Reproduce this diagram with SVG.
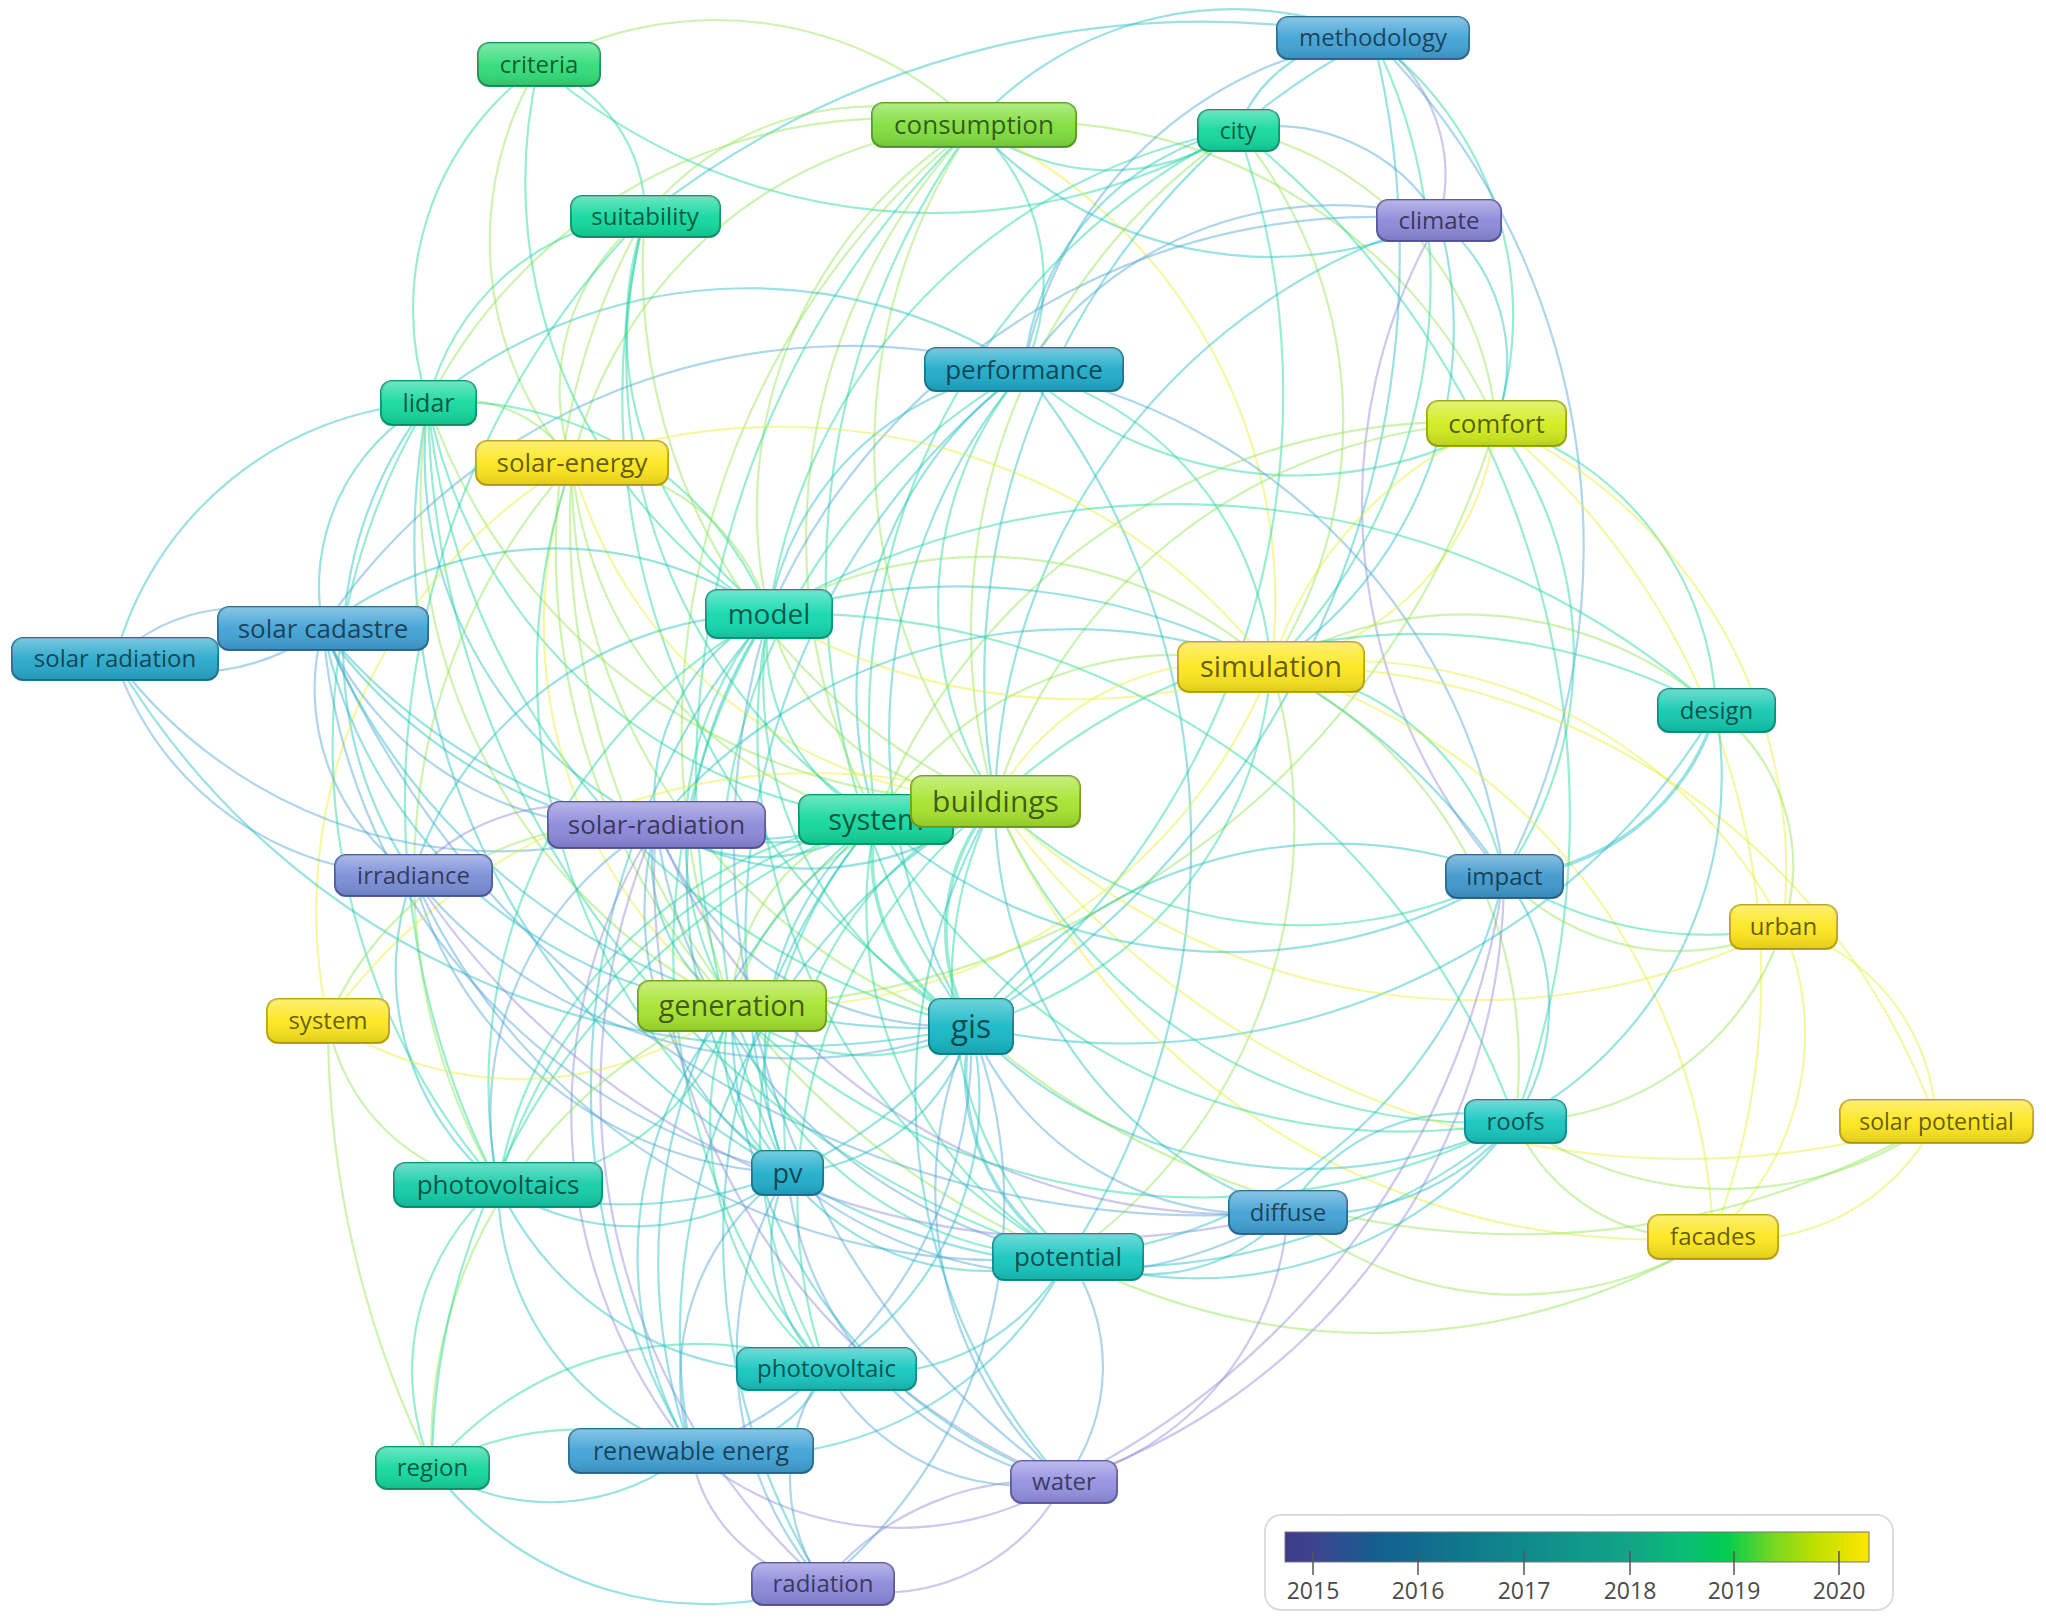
<svg xmlns="http://www.w3.org/2000/svg" width="2046" height="1624" viewBox="0 0 2046 1624">
<defs>
<linearGradient id="gloss" x1="0" y1="0" x2="0" y2="1">
<stop offset="0" stop-color="#fff" stop-opacity="0.38"/>
<stop offset="0.5" stop-color="#fff" stop-opacity="0.05"/>
<stop offset="1" stop-color="#000" stop-opacity="0.12"/>
</linearGradient>
<linearGradient id="scale" x1="0" y1="0" x2="1" y2="0">
<stop offset="0" stop-color="#3e3a8a"/>
<stop offset="0.05" stop-color="#3c4490"/>
<stop offset="0.128" stop-color="#215690"/>
<stop offset="0.16" stop-color="#135f8f"/>
<stop offset="0.41" stop-color="#0f8a8b"/>
<stop offset="0.59" stop-color="#12a488"/>
<stop offset="0.70" stop-color="#08c070"/>
<stop offset="0.755" stop-color="#00cc50"/>
<stop offset="0.84" stop-color="#7ad820"/>
<stop offset="0.91" stop-color="#c0e000"/>
<stop offset="1" stop-color="#ffe600"/>
</linearGradient>
<style>
.e{fill:none;stroke-width:2.2;stroke-opacity:0.45}
.w{stroke-width:3.6}
.c0{stroke:#8c88d8}
.c1{stroke:#4aa2d2}
.c2{stroke:#1cbcc0}
.c3{stroke:#1cd4a0}
.c4{stroke:#8ee450}
.c5{stroke:#e8ee30}
.b{stroke-width:2}
.gl{fill:url(#gloss);stroke:none}
text{font-family:"Open Sans","Noto Sans","DejaVu Sans",sans-serif;text-anchor:middle}
.t{fill:#000;fill-opacity:0.62}
.gr{fill:#30dd78;stroke:#1e9a52}
.lg{fill:#80df3c;stroke:#58a028}
.aq{fill:#12d89e;stroke:#0c9a6c}
.bl{fill:#40a2d6;stroke:#2a6f98}
.pu{fill:#8c88da;stroke:#5c58a4}
.tl{fill:#1eabcb;stroke:#14798f}
.cf{fill:#d2ec1c;stroke:#98ac10}
.ye{fill:#fde61c;stroke:#c0a810}
.md{fill:#12d9b0;stroke:#0c9a7c}
.sr{fill:#28a8cc;stroke:#187898}
.de{fill:#12c9b0;stroke:#0c9080}
.li{fill:#a6e42e;stroke:#74a41c}
.ir{fill:#7a8ed8;stroke:#4c5ea4}
.im{fill:#3e98cc;stroke:#2a6a98}
.gi{fill:#16b8c6;stroke:#0e8490}
.ro{fill:#16c6c0;stroke:#0e9090}
.pvs{fill:#12cca8;stroke:#0c9478}
.pv{fill:#20aecc;stroke:#147c94}
.lt{fill:#9490e0;stroke:#605ca8}
</style>
</defs>
<rect x="0" y="0" width="2046" height="1624" fill="#fff"/>
<g id="connectors">
<path class="e c3" d="M539 65 A300 300 0 0 0 428 403"/>
<path class="e c4" d="M539 65 A340 340 0 0 0 572 463"/>
<path class="e c3" d="M539 65 A160 160 0 0 1 645 216"/>
<path class="e c4" d="M539 65 A370 370 0 0 1 974 125"/>
<path class="e c3" d="M539 65 A600 600 0 0 0 1238 130"/>
<path class="e c3" d="M539 65 A505 505 0 0 0 769 614"/>
<path class="e c2" d="M645 216 A900 900 0 0 1 1373 38"/>
<path class="e c4" d="M974 125 A290 290 0 0 0 645 216"/>
<path class="e c4" d="M974 125 A520 520 0 0 0 428 403"/>
<path class="e c3" d="M974 125 A225 225 0 0 0 1238 130"/>
<path class="e c2" d="M974 125 A350 350 0 0 1 1373 38"/>
<path class="e c2" d="M974 125 A400 400 0 0 0 1439 220"/>
<path class="e c3" d="M974 125 A210 210 0 0 1 1024 370"/>
<path class="e c4" d="M974 125 A450 450 0 0 0 769 614"/>
<path class="e c4" d="M974 125 A575 575 0 0 0 995 801"/>
<path class="e c3" d="M974 125 A765 765 0 0 0 971 1026"/>
<path class="e c5" d="M974 125 A525 525 0 0 1 1271 667"/>
<path class="e c4" d="M974 125 A510 510 0 0 1 1496 423"/>
<path class="e c4" d="M974 125 A775 775 0 0 0 732 1006"/>
<path class="e c4" d="M974 125 A595 595 0 0 0 876 819"/>
<path class="e c3" d="M974 125 A905 905 0 0 0 787 1173"/>
<path class="e c4" d="M974 125 A445 445 0 0 0 572 463"/>
<path class="e c2" d="M1238 130 A140 140 0 0 1 1373 38"/>
<path class="e c1" d="M1238 130 A190 190 0 0 1 1439 220"/>
<path class="e c2" d="M1238 130 A270 270 0 0 0 1024 370"/>
<path class="e c4" d="M1238 130 A330 330 0 0 1 1496 423"/>
<path class="e c4" d="M1238 130 A455 455 0 0 1 1271 667"/>
<path class="e c4" d="M1238 130 A605 605 0 0 0 995 801"/>
<path class="e c3" d="M1238 130 A795 795 0 0 1 971 1026"/>
<path class="e c3" d="M1238 130 A575 575 0 0 0 769 614"/>
<path class="e c3" d="M1238 130 A875 875 0 0 1 1515 1121"/>
<path class="e c3" d="M1238 130 A660 660 0 0 0 876 819"/>
<path class="e c0" d="M1373 38 A165 165 0 0 1 1439 220"/>
<path class="e c1" d="M1373 38 A410 410 0 0 0 1024 370"/>
<path class="e c3" d="M1373 38 A345 345 0 0 1 1496 423"/>
<path class="e c3" d="M1373 38 A545 545 0 0 1 1271 667"/>
<path class="e c2" d="M1373 38 A905 905 0 0 1 971 1026"/>
<path class="e c2" d="M1373 38 A720 720 0 0 0 995 801"/>
<path class="e c1" d="M1373 38 A720 720 0 0 1 1504 876"/>
<path class="e c1" d="M1439 220 A375 375 0 0 0 1024 370"/>
<path class="e c0" d="M1439 220 A560 560 0 0 0 1504 876"/>
<path class="e c2" d="M1439 220 A180 180 0 0 1 1496 423"/>
<path class="e c2" d="M1439 220 A405 405 0 0 1 1271 667"/>
<path class="e c1" d="M1439 220 A660 660 0 0 0 769 614"/>
<path class="e c2" d="M1439 220 A620 620 0 0 0 995 801"/>
<path class="e c2" d="M1024 370 A505 505 0 0 0 428 403"/>
<path class="e c2" d="M1024 370 A300 300 0 0 0 769 614"/>
<path class="e c2" d="M1024 370 A560 560 0 0 0 971 1026"/>
<path class="e c3" d="M1024 370 A365 365 0 0 0 995 801"/>
<path class="e c2" d="M1024 370 A400 400 0 0 0 876 819"/>
<path class="e c3" d="M1024 370 A330 330 0 0 1 1271 667"/>
<path class="e c3" d="M1024 370 A405 405 0 0 0 1496 423"/>
<path class="e c1" d="M1024 370 A595 595 0 0 1 1504 876"/>
<path class="e c2" d="M1024 370 A710 710 0 0 0 787 1173"/>
<path class="e c3" d="M1024 370 A595 595 0 0 0 732 1006"/>
<path class="e c2" d="M1024 370 A755 755 0 0 1 1068 1257"/>
<path class="e c1" d="M1024 370 A635 635 0 0 0 323 628"/>
<path class="e c3" d="M428 403 A245 245 0 0 1 645 216"/>
<path class="e c2" d="M428 403 A345 345 0 0 0 115 659"/>
<path class="e c2" d="M428 403 A210 210 0 0 0 323 628"/>
<path class="e c4" d="M428 403 A135 135 0 0 1 572 463"/>
<path class="e c3" d="M428 403 A340 340 0 0 1 769 614"/>
<path class="e c3" d="M428 403 A705 705 0 0 0 971 1026"/>
<path class="e c2" d="M428 403 A720 720 0 0 0 787 1173"/>
<path class="e c2" d="M428 403 A410 410 0 0 0 656 825"/>
<path class="e c2" d="M428 403 A400 400 0 0 0 413 875"/>
<path class="e c3" d="M428 403 A665 665 0 0 0 498 1185"/>
<path class="e c4" d="M428 403 A590 590 0 0 0 995 801"/>
<path class="e c3" d="M428 403 A520 520 0 0 0 876 819"/>
<path class="e c3" d="M428 403 A905 905 0 0 0 1068 1257"/>
<path class="e c4" d="M428 403 A575 575 0 0 0 732 1006"/>
<path class="e c4" d="M645 216 A220 220 0 0 0 572 463"/>
<path class="e c3" d="M645 216 A355 355 0 0 0 769 614"/>
<path class="e c3" d="M645 216 A740 740 0 0 0 971 1026"/>
<path class="e c4" d="M645 216 A580 580 0 0 0 995 801"/>
<path class="e c3" d="M645 216 A550 550 0 0 0 876 819"/>
<path class="e c4" d="M645 216 A675 675 0 0 0 732 1006"/>
<path class="e c3" d="M645 216 A835 835 0 0 0 498 1185"/>
<path class="e c5" d="M1496 423 A280 280 0 0 1 1271 667"/>
<path class="e c5" d="M1496 423 A400 400 0 0 0 1271 667"/>
<path class="e c3" d="M1496 423 A310 310 0 0 1 1716 710"/>
<path class="e c5" d="M1496 423 A490 490 0 0 1 1783 927"/>
<path class="e c5" d="M1496 423 A715 715 0 0 1 1713 1237"/>
<path class="e c4" d="M1496 423 A535 535 0 0 0 995 801"/>
<path class="e c4" d="M1496 423 A815 815 0 0 1 732 1006"/>
<path class="e c3" d="M1496 423 A385 385 0 0 1 1504 876"/>
<path class="e c4" d="M1496 423 A625 625 0 0 0 876 819"/>
<path class="e c4" d="M572 463 A210 210 0 0 1 769 614"/>
<path class="e c5" d="M572 463 A460 460 0 0 0 995 801"/>
<path class="e c4" d="M572 463 A400 400 0 0 0 876 819"/>
<path class="e c5" d="M572 463 A480 480 0 0 0 732 1006"/>
<path class="e c4" d="M572 463 A585 585 0 0 0 971 1026"/>
<path class="e c5" d="M572 463 A520 520 0 0 0 328 1021"/>
<path class="e c4" d="M572 463 A615 615 0 0 0 498 1185"/>
<path class="e c3" d="M572 463 A630 630 0 0 0 787 1173"/>
<path class="e c4" d="M572 463 A795 795 0 0 0 1068 1257"/>
<path class="e c5" d="M572 463 A620 620 0 0 1 1271 667"/>
<path class="e c4" d="M769 614 A430 430 0 0 1 1271 667"/>
<path class="e c5" d="M769 614 A600 600 0 0 0 1271 667"/>
<path class="e c4" d="M769 614 A250 250 0 0 0 995 801"/>
<path class="e c3" d="M769 614 A195 195 0 0 0 876 819"/>
<path class="e c2" d="M769 614 A205 205 0 0 0 656 825"/>
<path class="e c3" d="M769 614 A335 335 0 0 0 732 1006"/>
<path class="e c3" d="M769 614 A390 390 0 0 0 971 1026"/>
<path class="e c2" d="M769 614 A475 475 0 0 0 787 1173"/>
<path class="e c3" d="M769 614 A535 535 0 0 0 498 1185"/>
<path class="e c3" d="M769 614 A600 600 0 0 0 1068 1257"/>
<path class="e c2" d="M769 614 A380 380 0 0 0 323 628"/>
<path class="e c2" d="M769 614 A375 375 0 0 0 413 875"/>
<path class="e c2" d="M769 614 A660 660 0 0 1 1504 876"/>
<path class="e c3" d="M769 614 A810 810 0 0 1 1716 710"/>
<path class="e c3" d="M769 614 A765 765 0 0 1 1515 1121"/>
<path class="e c2" d="M769 614 A715 715 0 0 0 691 1451"/>
<path class="e c1" d="M769 614 A780 780 0 0 0 1064 1482"/>
<path class="e c3" d="M769 614 A645 645 0 0 0 826 1369"/>
<path class="e c1" d="M323 628 A180 180 0 0 0 115 659"/>
<path class="e c1" d="M323 628 A220 220 0 0 1 115 659"/>
<path class="e c1" d="M323 628 A330 330 0 0 0 656 825"/>
<path class="e c1" d="M323 628 A225 225 0 0 0 413 875"/>
<path class="e c2" d="M323 628 A645 645 0 0 0 971 1026"/>
<path class="e c1" d="M323 628 A610 610 0 0 0 787 1173"/>
<path class="e c2" d="M323 628 A475 475 0 0 0 732 1006"/>
<path class="e c2" d="M323 628 A500 500 0 0 0 876 819"/>
<path class="e c2" d="M323 628 A590 590 0 0 0 995 801"/>
<path class="e c1" d="M323 628 A960 960 0 0 0 1288 1212"/>
<path class="e c1" d="M115 659 A315 315 0 0 0 413 875"/>
<path class="e c1" d="M115 659 A480 480 0 0 0 656 825"/>
<path class="e c2" d="M115 659 A790 790 0 0 0 971 1026"/>
<path class="e c5" d="M1271 667 A260 260 0 0 0 995 801"/>
<path class="e c4" d="M1271 667 A360 360 0 0 0 876 819"/>
<path class="e c3" d="M1271 667 A400 400 0 0 1 971 1026"/>
<path class="e c4" d="M1271 667 A380 380 0 0 1 1716 710"/>
<path class="e c3" d="M1271 667 A265 265 0 0 1 1504 876"/>
<path class="e c5" d="M1271 667 A490 490 0 0 1 1783 927"/>
<path class="e c5" d="M1271 667 A685 685 0 0 1 1936 1121"/>
<path class="e c5" d="M1271 667 A615 615 0 0 1 1713 1237"/>
<path class="e c4" d="M1271 667 A440 440 0 0 1 1515 1121"/>
<path class="e c5" d="M1271 667 A540 540 0 0 1 732 1006"/>
<path class="e c4" d="M1271 667 A530 530 0 0 1 1068 1257"/>
<path class="e c2" d="M1271 667 A540 540 0 0 0 656 825"/>
<path class="e c3" d="M1716 710 A620 620 0 0 0 995 801"/>
<path class="e c2 w" d="M1716 710 A230 230 0 0 1 1504 876"/>
<path class="e c4" d="M1716 710 A195 195 0 0 1 1783 927"/>
<path class="e c2" d="M1716 710 A390 390 0 0 1 1515 1121"/>
<path class="e c2" d="M1716 710 A690 690 0 0 1 971 1026"/>
<path class="e c4" d="M995 801 A105 105 0 0 1 876 819"/>
<path class="e c2" d="M995 801 A290 290 0 0 1 656 825"/>
<path class="e c4" d="M995 801 A285 285 0 0 0 732 1006"/>
<path class="e c3 w" d="M995 801 A195 195 0 0 0 971 1026"/>
<path class="e c3" d="M995 801 A360 360 0 0 0 787 1173"/>
<path class="e c3" d="M995 801 A440 440 0 0 0 1504 876"/>
<path class="e c3" d="M995 801 A520 520 0 0 0 1515 1121"/>
<path class="e c2" d="M995 801 A430 430 0 0 0 1288 1212"/>
<path class="e c3" d="M995 801 A390 390 0 0 0 1068 1257"/>
<path class="e c3" d="M995 801 A505 505 0 0 0 826 1369"/>
<path class="e c2" d="M995 801 A610 610 0 0 0 691 1451"/>
<path class="e c5" d="M995 801 A680 680 0 0 0 1783 927"/>
<path class="e c5" d="M995 801 A845 845 0 0 0 1936 1121"/>
<path class="e c5" d="M995 801 A715 715 0 0 0 1713 1237"/>
<path class="e c5" d="M995 801 A600 600 0 0 0 328 1021"/>
<path class="e c3" d="M995 801 A535 535 0 0 0 498 1185"/>
<path class="e c2" d="M995 801 A580 580 0 0 0 1064 1482"/>
<path class="e c2" d="M876 819 A190 190 0 0 1 656 825"/>
<path class="e c4" d="M876 819 A200 200 0 0 0 732 1006"/>
<path class="e c3 w" d="M876 819 A195 195 0 0 0 971 1026"/>
<path class="e c2" d="M876 819 A310 310 0 0 0 787 1173"/>
<path class="e c3" d="M876 819 A450 450 0 0 0 498 1185"/>
<path class="e c3" d="M876 819 A405 405 0 0 0 1068 1257"/>
<path class="e c3" d="M876 819 A470 470 0 0 0 826 1369"/>
<path class="e c2" d="M876 819 A560 560 0 0 0 691 1451"/>
<path class="e c3" d="M876 819 A600 600 0 0 0 1515 1121"/>
<path class="e c2" d="M876 819 A535 535 0 0 0 1504 876"/>
<path class="e c2" d="M876 819 A650 650 0 0 0 823 1584"/>
<path class="e c0" d="M656 825 A210 210 0 0 0 413 875"/>
<path class="e c2" d="M656 825 A170 170 0 0 0 732 1006"/>
<path class="e c1" d="M656 825 A320 320 0 0 0 971 1026"/>
<path class="e c1" d="M656 825 A315 315 0 0 0 787 1173"/>
<path class="e c1" d="M656 825 A335 335 0 0 0 498 1185"/>
<path class="e c0" d="M656 825 A630 630 0 0 0 1288 1212"/>
<path class="e c1" d="M656 825 A510 510 0 0 0 1068 1257"/>
<path class="e c0" d="M656 825 A660 660 0 0 0 823 1584"/>
<path class="e c0" d="M656 825 A655 655 0 0 0 1064 1482"/>
<path class="e c0" d="M656 825 A535 535 0 0 0 691 1451"/>
<path class="e c1" d="M413 875 A490 490 0 0 0 971 1026"/>
<path class="e c1" d="M413 875 A405 405 0 0 0 787 1173"/>
<path class="e c2" d="M413 875 A275 275 0 0 0 498 1185"/>
<path class="e c1" d="M413 875 A645 645 0 0 0 1068 1257"/>
<path class="e c0" d="M413 875 A800 800 0 0 0 1288 1212"/>
<path class="e c2" d="M1504 876 A455 455 0 0 0 971 1026"/>
<path class="e c4" d="M1504 876 A240 240 0 0 0 1783 927"/>
<path class="e c3" d="M1504 876 A380 380 0 0 0 1783 927"/>
<path class="e c2" d="M1504 876 A210 210 0 0 1 1515 1121"/>
<path class="e c0" d="M1504 876 A640 640 0 0 1 1064 1482"/>
<path class="e c0" d="M1504 876 A800 800 0 0 1 1064 1482"/>
<path class="e c2" d="M1504 876 A490 490 0 0 1 1068 1257"/>
<path class="e c5" d="M1783 927 A210 210 0 0 1 1936 1121"/>
<path class="e c5" d="M1783 927 A270 270 0 0 1 1713 1237"/>
<path class="e c4" d="M1783 927 A280 280 0 0 1 1515 1121"/>
<path class="e c5" d="M328 1021 A345 345 0 0 0 732 1006"/>
<path class="e c4" d="M328 1021 A200 200 0 0 0 498 1185"/>
<path class="e c4" d="M328 1021 A325 325 0 0 1 656 825"/>
<path class="e c3" d="M732 1006 A205 205 0 0 0 971 1026"/>
<path class="e c3" d="M732 1006 A150 150 0 0 0 787 1173"/>
<path class="e c3" d="M732 1006 A250 250 0 0 1 498 1185"/>
<path class="e c3" d="M732 1006 A355 355 0 0 0 1068 1257"/>
<path class="e c3" d="M732 1006 A320 320 0 0 0 826 1369"/>
<path class="e c2" d="M732 1006 A380 380 0 0 0 691 1451"/>
<path class="e c3" d="M732 1006 A675 675 0 0 0 1515 1121"/>
<path class="e c2" d="M732 1006 A495 495 0 0 0 1064 1482"/>
<path class="e c4" d="M732 1006 A470 470 0 0 0 432 1468"/>
<path class="e c2" d="M971 1026 A200 200 0 0 1 787 1173"/>
<path class="e c2" d="M971 1026 A425 425 0 0 1 498 1185"/>
<path class="e c2 w" d="M971 1026 A215 215 0 0 0 1068 1257"/>
<path class="e c2" d="M971 1026 A315 315 0 0 1 826 1369"/>
<path class="e c1" d="M971 1026 A435 435 0 0 1 691 1451"/>
<path class="e c2" d="M971 1026 A470 470 0 0 0 1515 1121"/>
<path class="e c1" d="M971 1026 A310 310 0 0 0 1288 1212"/>
<path class="e c1" d="M971 1026 A395 395 0 0 0 1064 1482"/>
<path class="e c1" d="M971 1026 A490 490 0 0 1 823 1584"/>
<path class="e c4" d="M971 1026 A825 825 0 0 0 1936 1121"/>
<path class="e c4" d="M1515 1121 A360 360 0 0 0 1936 1121"/>
<path class="e c4" d="M1515 1121 A195 195 0 0 0 1713 1237"/>
<path class="e c2" d="M1515 1121 A200 200 0 0 0 1288 1212"/>
<path class="e c2" d="M1515 1121 A260 260 0 0 1 1288 1212"/>
<path class="e c2" d="M1515 1121 A400 400 0 0 1 1068 1257"/>
<path class="e c2" d="M1515 1121 A620 620 0 0 1 787 1173"/>
<path class="e c2" d="M787 1173 A245 245 0 0 1 498 1185"/>
<path class="e c2" d="M787 1173 A170 170 0 0 0 826 1369"/>
<path class="e c1" d="M787 1173 A250 250 0 0 0 691 1451"/>
<path class="e c2" d="M787 1173 A250 250 0 0 0 1068 1257"/>
<path class="e c1" d="M787 1173 A350 350 0 0 0 823 1584"/>
<path class="e c1" d="M787 1173 A355 355 0 0 0 1064 1482"/>
<path class="e c1" d="M787 1173 A430 430 0 0 0 1288 1212"/>
<path class="e c3" d="M498 1185 A245 245 0 0 0 432 1468"/>
<path class="e c2" d="M498 1185 A280 280 0 0 0 691 1451"/>
<path class="e c2" d="M498 1185 A320 320 0 0 0 826 1369"/>
<path class="e c4" d="M432 1468 A1000 1000 0 0 1 328 1021"/>
<path class="e c3" d="M432 1468 A700 700 0 0 1 876 819"/>
<path class="e c2" d="M1288 1212 A190 190 0 0 1 1068 1257"/>
<path class="e c4" d="M1288 1212 A360 360 0 0 0 1713 1237"/>
<path class="e c5" d="M1713 1237 A215 215 0 0 0 1936 1121"/>
<path class="e c4" d="M1713 1237 A650 650 0 0 1 1068 1257"/>
<path class="e c2" d="M1068 1257 A225 225 0 0 1 826 1369"/>
<path class="e c2" d="M1068 1257 A360 360 0 0 1 691 1451"/>
<path class="e c1" d="M1068 1257 A190 190 0 0 1 1064 1482"/>
<path class="e c2" d="M826 1369 A135 135 0 0 1 691 1451"/>
<path class="e c1" d="M826 1369 A225 225 0 0 0 1064 1482"/>
<path class="e c1" d="M826 1369 A185 185 0 0 0 823 1584"/>
<path class="e c2" d="M432 1468 A220 220 0 0 0 691 1451"/>
<path class="e c3" d="M432 1468 A300 300 0 0 1 691 1451"/>
<path class="e c2" d="M432 1468 A345 345 0 0 0 823 1584"/>
<path class="e c3" d="M432 1468 A345 345 0 0 1 826 1369"/>
<path class="e c0" d="M691 1451 A160 160 0 0 0 823 1584"/>
<path class="e c0" d="M691 1451 A320 320 0 0 0 1064 1482"/>
<path class="e c0" d="M1064 1482 A205 205 0 0 1 823 1584"/>
<path class="e c0" d="M1064 1482 A280 280 0 0 0 823 1584"/>
<path class="e c0" d="M1288 1212 A300 300 0 0 1 1064 1482"/>
</g>
<g id="n-criteria"><rect class="gr b" x="478" y="43" width="122" height="43" rx="11"/><rect class="gl" x="478" y="43" width="122" height="43" rx="11"/><text class="t" x="539" y="73" font-size="24">criteria</text></g>
<g id="n-consumption"><rect class="lg b" x="872" y="103" width="204" height="44" rx="11"/><rect class="gl" x="872" y="103" width="204" height="44" rx="11"/><text class="t" x="974" y="134" font-size="26">consumption</text></g>
<g id="n-city"><rect class="aq b" x="1198" y="110" width="81" height="41" rx="11"/><rect class="gl" x="1198" y="110" width="81" height="41" rx="11"/><text class="t" x="1238" y="138.5" font-size="23">city</text></g>
<g id="n-methodology"><rect class="bl b" x="1277" y="17" width="192" height="42" rx="11"/><rect class="gl" x="1277" y="17" width="192" height="42" rx="11"/><text class="t" x="1373" y="46.4" font-size="24">methodology</text></g>
<g id="n-suitability"><rect class="aq b" x="571" y="196" width="149" height="41" rx="11"/><rect class="gl" x="571" y="196" width="149" height="41" rx="11"/><text class="t" x="645" y="225" font-size="24">suitability</text></g>
<g id="n-climate"><rect class="pu b" x="1377" y="200" width="124" height="41" rx="11"/><rect class="gl" x="1377" y="200" width="124" height="41" rx="11"/><text class="t" x="1439" y="229" font-size="24">climate</text></g>
<g id="n-performance"><rect class="tl b" x="925" y="348" width="198" height="43" rx="11"/><rect class="gl" x="925" y="348" width="198" height="43" rx="11"/><text class="t" x="1024" y="378.6" font-size="26">performance</text></g>
<g id="n-lidar"><rect class="aq b" x="381" y="381" width="95" height="44" rx="11"/><rect class="gl" x="381" y="381" width="95" height="44" rx="11"/><text class="t" x="428.5" y="411.8" font-size="25">lidar</text></g>
<g id="n-comfort"><rect class="cf b" x="1427" y="401" width="139" height="45" rx="11"/><rect class="gl" x="1427" y="401" width="139" height="45" rx="11"/><text class="t" x="1496.5" y="432.6" font-size="26">comfort</text></g>
<g id="n-solar-energy"><rect class="ye b" x="476" y="441" width="192" height="44" rx="11"/><rect class="gl" x="476" y="441" width="192" height="44" rx="11"/><text class="t" x="572" y="472" font-size="26">solar-energy</text></g>
<g id="n-model"><rect class="md b" x="706" y="590" width="126" height="48" rx="11"/><rect class="gl" x="706" y="590" width="126" height="48" rx="11"/><text class="t" x="769" y="623.8" font-size="28">model</text></g>
<g id="n-solar-cadastre"><rect class="bl b" x="218" y="607" width="210" height="43" rx="11"/><rect class="gl" x="218" y="607" width="210" height="43" rx="11"/><text class="t" x="323" y="637.6" font-size="26">solar cadastre</text></g>
<g id="n-solar-radiation-2"><rect class="sr b" x="12" y="638" width="206" height="42" rx="11"/><rect class="gl" x="12" y="638" width="206" height="42" rx="11"/><text class="t" x="115" y="667.4" font-size="24">solar radiation</text></g>
<g id="n-simulation"><rect class="ye b" x="1178" y="642" width="186" height="50" rx="11"/><rect class="gl" x="1178" y="642" width="186" height="50" rx="11"/><text class="t" x="1271" y="677" font-size="29">simulation</text></g>
<g id="n-design"><rect class="de b" x="1658" y="689" width="117" height="43" rx="11"/><rect class="gl" x="1658" y="689" width="117" height="43" rx="11"/><text class="t" x="1716.5" y="719" font-size="24">design</text></g>
<g id="n-system"><rect class="aq b" x="799" y="795" width="154" height="49" rx="11"/><rect class="gl" x="799" y="795" width="154" height="49" rx="11"/><text class="t" x="876" y="829.6" font-size="29">system</text></g>
<g id="n-buildings"><rect class="li b" x="911" y="776" width="169" height="51" rx="11"/><rect class="gl" x="911" y="776" width="169" height="51" rx="11"/><text class="t" x="995.5" y="812" font-size="30">buildings</text></g>
<g id="n-solar-radiation"><rect class="pu b" x="548" y="802" width="217" height="46" rx="11"/><rect class="gl" x="548" y="802" width="217" height="46" rx="11"/><text class="t" x="656.5" y="834" font-size="26">solar-radiation</text></g>
<g id="n-irradiance"><rect class="ir b" x="335" y="855" width="157" height="41" rx="11"/><rect class="gl" x="335" y="855" width="157" height="41" rx="11"/><text class="t" x="413.5" y="884" font-size="24">irradiance</text></g>
<g id="n-impact"><rect class="im b" x="1446" y="855" width="117" height="43" rx="11"/><rect class="gl" x="1446" y="855" width="117" height="43" rx="11"/><text class="t" x="1504.5" y="885" font-size="24">impact</text></g>
<g id="n-urban"><rect class="ye b" x="1730" y="905" width="107" height="44" rx="11"/><rect class="gl" x="1730" y="905" width="107" height="44" rx="11"/><text class="t" x="1783.5" y="935.4" font-size="24">urban</text></g>
<g id="n-system-2"><rect class="ye b" x="267" y="999" width="122" height="44" rx="11"/><rect class="gl" x="267" y="999" width="122" height="44" rx="11"/><text class="t" x="328" y="1029.4" font-size="24">system</text></g>
<g id="n-generation"><rect class="li b" x="638" y="981" width="188" height="50" rx="11"/><rect class="gl" x="638" y="981" width="188" height="50" rx="11"/><text class="t" x="732" y="1016" font-size="29">generation</text></g>
<g id="n-gis"><rect class="gi b" x="929" y="999" width="84" height="55" rx="11"/><rect class="gl" x="929" y="999" width="84" height="55" rx="11"/><text class="t" x="971" y="1037.7" font-size="32">gis</text></g>
<g id="n-roofs"><rect class="ro b" x="1465" y="1100" width="101" height="43" rx="11"/><rect class="gl" x="1465" y="1100" width="101" height="43" rx="11"/><text class="t" x="1515.5" y="1130" font-size="24">roofs</text></g>
<g id="n-solar-potential"><rect class="ye b" x="1840" y="1100" width="193" height="43" rx="11"/><rect class="gl" x="1840" y="1100" width="193" height="43" rx="11"/><text class="t" x="1936.5" y="1129.5" font-size="23">solar potential</text></g>
<g id="n-photovoltaics"><rect class="pvs b" x="394" y="1163" width="208" height="44" rx="11"/><rect class="gl" x="394" y="1163" width="208" height="44" rx="11"/><text class="t" x="498" y="1194" font-size="26">photovoltaics</text></g>
<g id="n-pv"><rect class="pv b" x="752" y="1151" width="71" height="44" rx="11"/><rect class="gl" x="752" y="1151" width="71" height="44" rx="11"/><text class="t" x="787.5" y="1182.5" font-size="27">pv</text></g>
<g id="n-diffuse"><rect class="bl b" x="1229" y="1191" width="118" height="43" rx="11"/><rect class="gl" x="1229" y="1191" width="118" height="43" rx="11"/><text class="t" x="1288" y="1221" font-size="24">diffuse</text></g>
<g id="n-facades"><rect class="ye b" x="1648" y="1215" width="130" height="44" rx="11"/><rect class="gl" x="1648" y="1215" width="130" height="44" rx="11"/><text class="t" x="1713" y="1245.4" font-size="24">facades</text></g>
<g id="n-potential"><rect class="ro b" x="993" y="1234" width="150" height="46" rx="11"/><rect class="gl" x="993" y="1234" width="150" height="46" rx="11"/><text class="t" x="1068" y="1266" font-size="26">potential</text></g>
<g id="n-photovoltaic"><rect class="ro b" x="737" y="1348" width="179" height="42" rx="11"/><rect class="gl" x="737" y="1348" width="179" height="42" rx="11"/><text class="t" x="826.5" y="1377.4" font-size="24">photovoltaic</text></g>
<g id="n-region"><rect class="aq b" x="376" y="1447" width="113" height="42" rx="11"/><rect class="gl" x="376" y="1447" width="113" height="42" rx="11"/><text class="t" x="432.5" y="1476.4" font-size="24">region</text></g>
<g id="n-renewable-energ"><rect class="bl b" x="569" y="1429" width="244" height="44" rx="11"/><rect class="gl" x="569" y="1429" width="244" height="44" rx="11"/><text class="t" x="691" y="1459.8" font-size="25">renewable energ</text></g>
<g id="n-water"><rect class="lt b" x="1011" y="1461" width="106" height="42" rx="11"/><rect class="gl" x="1011" y="1461" width="106" height="42" rx="11"/><text class="t" x="1064" y="1490.4" font-size="24">water</text></g>
<g id="n-radiation"><rect class="pu b" x="752" y="1563" width="142" height="42" rx="11"/><rect class="gl" x="752" y="1563" width="142" height="42" rx="11"/><text class="t" x="823" y="1592.4" font-size="24">radiation</text></g>
<g id="legend">
<rect x="1265" y="1515" width="628" height="95" rx="16" fill="#fff" stroke="#dcdcdc" stroke-width="2"/>
<rect x="1285" y="1532" width="584" height="30" fill="url(#scale)" stroke="#777" stroke-width="1"/>
<g stroke="#555" stroke-width="1.5">
<line x1="1313" y1="1551" x2="1313" y2="1575"/>
<line x1="1418" y1="1551" x2="1418" y2="1575"/>
<line x1="1524" y1="1551" x2="1524" y2="1575"/>
<line x1="1630" y1="1551" x2="1630" y2="1575"/>
<line x1="1734" y1="1551" x2="1734" y2="1575"/>
<line x1="1839" y1="1551" x2="1839" y2="1575"/>
</g>
<g fill="#4a4a4a" font-size="23">
<text x="1313" y="1599">2015</text>
<text x="1418" y="1599">2016</text>
<text x="1524" y="1599">2017</text>
<text x="1630" y="1599">2018</text>
<text x="1734" y="1599">2019</text>
<text x="1839" y="1599">2020</text>
</g>
</g>
</svg>
